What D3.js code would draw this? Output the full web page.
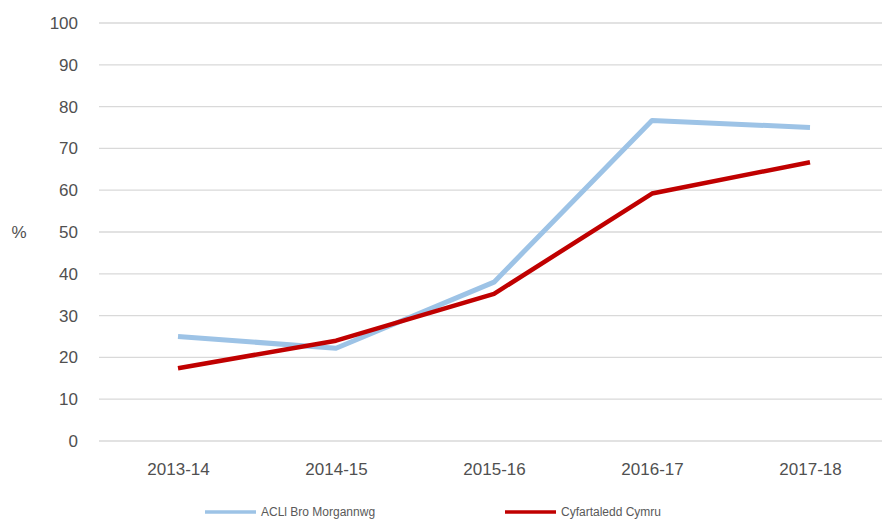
<!DOCTYPE html>
<html>
<head>
<meta charset="utf-8">
<script src="https://cdn.jsdelivr.net/npm/d3@7"></script>
<style>
  html, body { margin: 0; padding: 0; background: #fff; }
  svg { display: block; font-family: "Liberation Sans", Arial, sans-serif; }
</style>
</head>
<body>
<div id="chart"></div>
<script>
// Data
const years = ["2013-14", "2014-15", "2015-16", "2016-17", "2017-18"]
const broMorgannwg = [25.0, 22.2, 38.0, 76.7, 75.0]
const walesAverage = [17.4, 24.0, 35.2, 59.2, 66.7]
const yTicks = [0, 10, 20, 30, 40, 50, 60, 70, 80, 90, 100]
const seriesNames = ["ACLl Bro Morgannwg", "Cyfartaledd Cymru"]
const seriesColors = ["#9dc3e6", "#c00000"]

const width = 882
const height = 521
const margin = { top: 23, right: 0, bottom: 80, left: 99 }
const innerW = width - margin.left - margin.right
const innerH = height - margin.top - margin.bottom

const svg = d3.select("#chart")
  .append("svg")
  .attr("width", width)
  .attr("height", height)

const g = svg.append("g")
  .attr("transform", `translate(${margin.left},${margin.top})`)

// band of 158px per year, last band runs past the right edge like the source
const x = d3.scalePoint().domain(years).range([79, 79 + 158 * 4])
const y = d3.scaleLinear().domain([0, 100]).range([innerH, 0])

// Gridlines
g.append("g")
  .selectAll("line")
  .data(yTicks)
  .enter()
  .append("line")
  .attr("x1", 0).attr("x2", innerW)
  .attr("y1", d => y(d)).attr("y2", d => y(d))
  .attr("stroke", "#d9d9d9")
  .attr("stroke-width", 1.3)

// Y axis labels
const yAxis = d3.axisLeft(y).tickValues(yTicks).tickSize(0).tickPadding(21)
g.append("g")
  .call(yAxis)
  .call(a => a.select(".domain").remove())
  .selectAll("text")
  .attr("fill", "#505050")
  .attr("font-size", "17px")
  .attr("font-family", "\"Liberation Sans\", Arial, sans-serif")

svg.append("text")
  .attr("x", 19)
  .attr("y", y(50) + margin.top + 6)
  .attr("text-anchor", "middle")
  .attr("fill", "#505050")
  .attr("font-size", "17px")
  .text("%")

// X axis labels
const xAxis = d3.axisBottom(x).tickSize(0).tickPadding(22)
g.append("g")
  .attr("transform", `translate(0,${innerH})`)
  .call(xAxis)
  .call(a => a.select(".domain").remove())
  .selectAll("text")
  .attr("fill", "#505050")
  .attr("font-size", "17px")
  .attr("font-family", "\"Liberation Sans\", Arial, sans-serif")

// Lines
const line = d3.line()
  .x((d, i) => x(years[i]))
  .y(d => y(d))

const series = [broMorgannwg, walesAverage]
const widths = [5, 4.5]
series.forEach((vals, i) => {
  g.append("path")
    .datum(vals)
    .attr("fill", "none")
    .attr("stroke", seriesColors[i])
    .attr("stroke-width", widths[i])
    .attr("stroke-linejoin", "round")
    .attr("d", line)
})

// Legend
const legendX = [205, 505]
const legend = svg.append("g")
seriesNames.forEach((name, i) => {
  legend.append("line")
    .attr("x1", legendX[i]).attr("x2", legendX[i] + 51)
    .attr("y1", 512).attr("y2", 512)
    .attr("stroke", seriesColors[i])
    .attr("stroke-width", 3.5)
  legend.append("text")
    .attr("x", legendX[i] + 56)
    .attr("y", 516)
    .attr("fill", "#595959")
    .attr("font-size", "12px")
    .text(name)
})
</script>
</body>
</html>
